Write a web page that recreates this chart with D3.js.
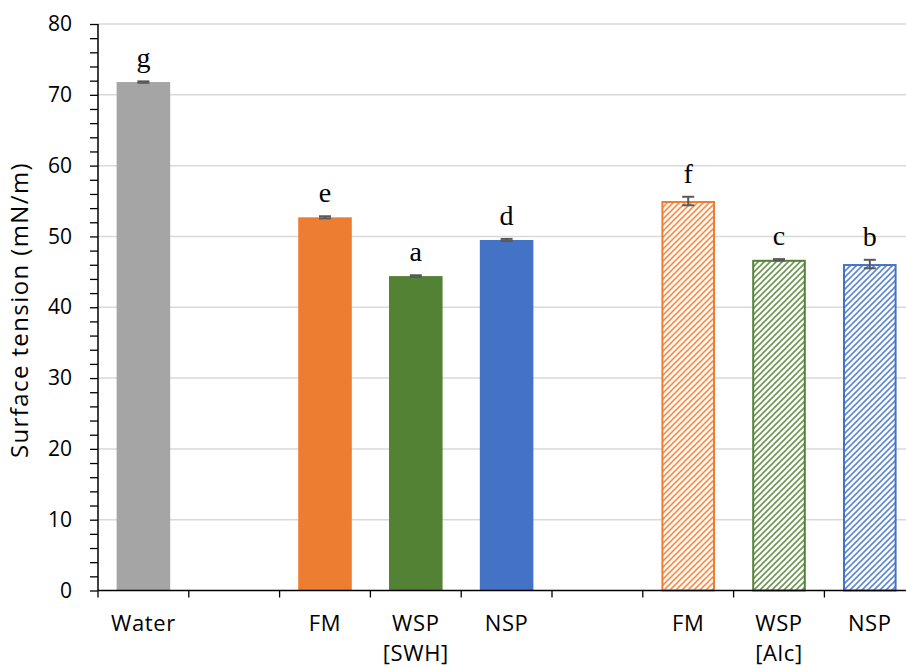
<!DOCTYPE html>
<html>
<head>
<meta charset="utf-8">
<script src="https://cdn.jsdelivr.net/npm/d3@7"></script>
<style>
  body { margin: 0; background: #fff; }
  svg { display: block; }
</style>
</head>
<body>
<div id="chart"></div>
<script>
// slots along the x axis (empty ones are the gaps between groups)
const slots = ["Water", "gap1", "FM_SWH", "WSP_SWH", "NSP_SWH", "gap2", "FM_Alc", "WSP_Alc", "NSP_Alc"];
const slotLabels = ["Water", "", "FM", "WSP", "NSP", "", "FM", "WSP", "NSP"];
const groupLabels = { WSP_SWH: "[SWH]", WSP_Alc: "[Alc]" };

// bars
const barKeys = ["Water", "FM_SWH", "WSP_SWH", "NSP_SWH", "FM_Alc", "WSP_Alc", "NSP_Alc"];
const values = [71.8, 52.7, 44.4, 49.5, 55.0, 46.7, 46.1];
const errors = [0.1, 0.15, 0.12, 0.15, 0.6, 0.1, 0.6];
const letters = ["g", "e", "a", "d", "f", "c", "b"];
const colors = ["#a5a5a5", "#ed7d31", "#548235", "#4472c4", "#ed7d31", "#548235", "#4472c4"];
const hatched = [false, false, false, false, true, true, true];

const yTicks = d3.range(0, 81, 2);

const W = 906, H = 668;
const margin = { left: 98, top: 24, bottom: 77 };
const step = 90.8;

const svg = d3.select("#chart").append("svg")
  .attr("width", W).attr("height", H);

const x = d3.scaleBand()
  .domain(slots)
  .range([margin.left, margin.left + step * slots.length])
  .paddingInner(0.41)
  .paddingOuter(0.205);

const y = d3.scaleLinear()
  .domain([0, 80])
  .range([H - margin.bottom - 0.5, margin.top]);

// hatch patterns for the alcohol group
const defs = svg.append("defs");
barKeys.forEach((k, i) => {
  if (!hatched[i]) return;
  const p = defs.append("pattern")
    .attr("id", "hatch" + i)
    .attr("patternUnits", "userSpaceOnUse")
    .attr("width", 6).attr("height", 6);
  p.append("rect").attr("width", 6).attr("height", 6).attr("fill", "#fff");
  p.append("path")
    .attr("d", "M-1,1 L1,-1 M0,6 L6,0 M5,7 L7,5")
    .attr("stroke", colors[i])
    .attr("stroke-width", 1.6)
    .attr("opacity", 0.85);
});

// gridlines
svg.append("g")
  .selectAll("line")
  .data(d3.range(10, 81, 10))
  .join("line")
  .attr("x1", margin.left).attr("x2", W)
  .attr("y1", d => y(d)).attr("y2", d => y(d))
  .attr("stroke", "#d9d9d9")
  .attr("stroke-width", 1.5);

// bars
const bars = svg.append("g");
barKeys.forEach((k, i) => {
  const bx = x(k), bw = x.bandwidth();
  if (hatched[i]) {
    bars.append("rect")
      .attr("x", bx + 1).attr("y", y(values[i]) + 1)
      .attr("width", bw - 2).attr("height", y(0) - y(values[i]) - 1)
      .attr("fill", `url(#hatch${i})`)
      .attr("stroke", colors[i])
      .attr("stroke-width", 2);
  } else {
    bars.append("rect")
      .attr("x", bx).attr("y", y(values[i]))
      .attr("width", bw).attr("height", y(0) - y(values[i]))
      .attr("fill", colors[i]);
  }
});

// error bars
const eb = svg.append("g").attr("stroke", "#595959").attr("stroke-width", 2);
barKeys.forEach((k, i) => {
  const cx = x(k) + x.bandwidth() / 2;
  const y1 = y(values[i] + errors[i]), y2 = y(values[i] - errors[i]);
  eb.append("line").attr("x1", cx).attr("x2", cx).attr("y1", y1).attr("y2", y2);
  eb.append("line").attr("x1", cx - 6).attr("x2", cx + 6).attr("y1", y1).attr("y2", y1);
  eb.append("line").attr("x1", cx - 6).attr("x2", cx + 6).attr("y1", y2).attr("y2", y2);
});

// significance letters
svg.append("g")
  .selectAll("text")
  .data(barKeys)
  .join("text")
  .attr("x", k => x(k) + x.bandwidth() / 2)
  .attr("y", (k, i) => y(values[i] + errors[i]) - 14)
  .attr("text-anchor", "middle")
  .style("font-family", "'Liberation Serif', 'Times New Roman', serif")
  .style("font-size", "28px")
  .attr("fill", "#000")
  .text((k, i) => letters[i]);

// y axis
const yAxis = svg.append("g")
  .attr("transform", `translate(${margin.left},0)`)
  .call(d3.axisLeft(y)
    .tickValues(yTicks)
    .tickSize(8)
    .tickPadding(18)
    .tickFormat(d => d % 10 === 0 ? d : ""));
yAxis.select(".domain").attr("d", `M0,${y(0)}V${y(80)}`).attr("stroke-width", 1.5);
yAxis.selectAll(".tick line").attr("stroke-width", 1.3);
yAxis.selectAll("text")
  .style("font-family", "'Open Sans', sans-serif")
  .style("font-size", "21px")
  .attr("fill", "#000");

// x axis line + slot boundary ticks
const xg = svg.append("g");
xg.append("line")
  .attr("x1", margin.left).attr("x2", W)
  .attr("y1", y(0)).attr("y2", y(0))
  .attr("stroke", "#000").attr("stroke-width", 1.5);
xg.selectAll(".bt")
  .data(d3.range(slots.length + 1))
  .join("line")
  .attr("class", "bt")
  .attr("x1", k => x.range()[0] + k * x.step())
  .attr("x2", k => x.range()[0] + k * x.step())
  .attr("y1", y(0)).attr("y2", y(0) + 7)
  .attr("stroke", "#000").attr("stroke-width", 1.3);

const labelStyle = sel => sel
  .style("font-family", "'Open Sans', sans-serif")
  .style("font-size", "22px")
  .style("letter-spacing", "0.6px")
  .attr("text-anchor", "middle")
  .attr("fill", "#000");

xg.selectAll(".xl")
  .data(slots)
  .join("text")
  .attr("class", "xl")
  .attr("x", k => x(k) + x.bandwidth() / 2)
  .attr("y", 631)
  .call(labelStyle)
  .text((k, i) => slotLabels[i]);

xg.selectAll(".gl")
  .data(Object.keys(groupLabels))
  .join("text")
  .attr("class", "gl")
  .attr("x", k => x(k) + x.bandwidth() / 2)
  .attr("y", 661)
  .call(labelStyle)
  .text(k => groupLabels[k]);

// y axis title
svg.append("text")
  .attr("transform", `translate(28,310) rotate(-90)`)
  .attr("text-anchor", "middle")
  .style("font-family", "'Open Sans', sans-serif")
  .style("font-size", "24px")
  .style("letter-spacing", "1.4px")
  .attr("fill", "#000")
  .text("Surface tension (mN/m)");
</script>
</body>
</html>
